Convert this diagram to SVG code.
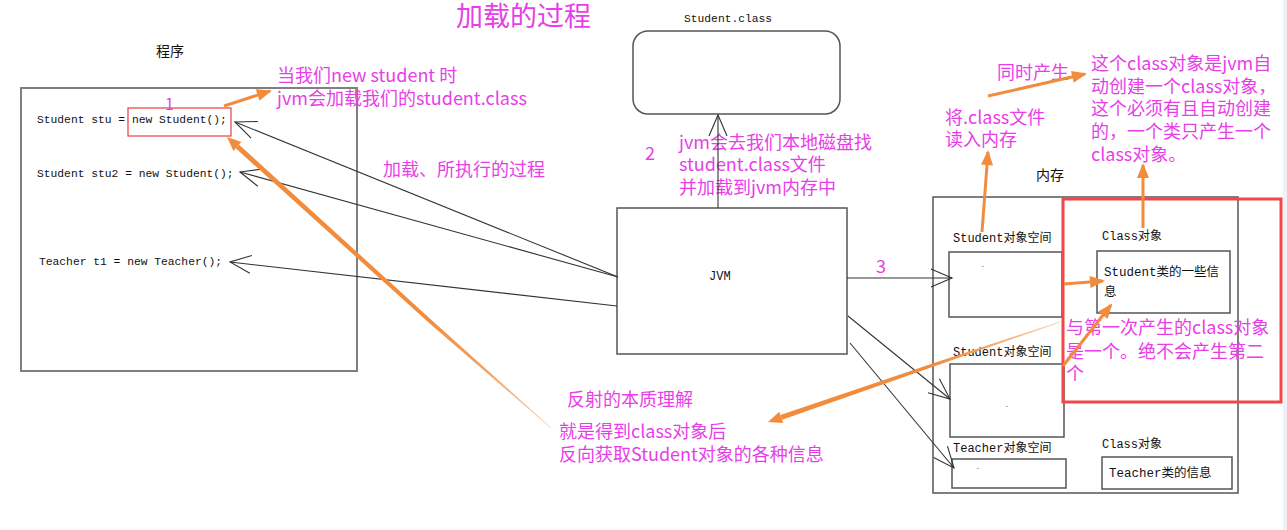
<svg xmlns="http://www.w3.org/2000/svg" width="1287" height="530" viewBox="0 0 1287 530">
<style>
.mg{font-family:"Noto Sans CJK SC","Noto Sans",sans-serif;font-size:18px;fill:#e83ee8}
.code{font-family:"Liberation Mono","Noto Sans CJK SC",monospace;font-size:11.3px;fill:#111}
.lbl{font-family:"Liberation Mono","Noto Sans CJK SC",monospace;font-size:12px;fill:#111}
.cj{font-family:"Noto Sans CJK SC",sans-serif;font-size:14px;fill:#111}
.box{fill:none;stroke:#555;stroke-width:1.5}
.gbox{fill:none;stroke:#808080;stroke-width:2}
.blk{fill:none;stroke:#333;stroke-width:1.1;marker-end:url(#open)}
.org{fill:none;stroke:#f28c3c;stroke-width:3;marker-end:url(#ohead)}
</style>
<defs>
<marker id="open" viewBox="-24 -12 26 24" refX="0" refY="0" markerWidth="26" markerHeight="24" markerUnits="userSpaceOnUse" orient="auto">
<path d="M-21,-9 L0,0 L-21,9" fill="none" stroke="#333" stroke-width="1.1"/>
</marker>
<marker id="ohead" viewBox="-16 -8 20 16" refX="0" refY="0" markerWidth="20" markerHeight="16" markerUnits="userSpaceOnUse" orient="auto">
<path d="M-13,-6 L2,0 L-13,6 z" fill="#f28c3c"/>
</marker>
<linearGradient id="fadeA" gradientUnits="userSpaceOnUse" x1="551" y1="428" x2="237" y2="146">
<stop offset="0" stop-color="#f8d6bb"/><stop offset="0.22" stop-color="#f3a160"/><stop offset="0.4" stop-color="#f28c3c"/><stop offset="1" stop-color="#f28c3c"/>
</linearGradient>
<linearGradient id="fadeB" gradientUnits="userSpaceOnUse" x1="1060" y1="322" x2="781" y2="417">
<stop offset="0" stop-color="#f8d6bb"/><stop offset="0.3" stop-color="#f3a160"/><stop offset="0.45" stop-color="#f28c3c"/><stop offset="1" stop-color="#f28c3c"/>
</linearGradient>
</defs>
<rect x="0" y="0" width="1287" height="530" fill="#ffffff"/>
<rect x="1283" y="0" width="4" height="530" fill="#eef1f5"/>

<g id="title"><text class="mg" x="456" y="25.5" style="font-size:27px">加载的过程</text></g>

<g id="program">
<text class="cj" x="156" y="56">程序</text>
<rect class="gbox" x="21" y="88" width="336" height="283"/>
<text class="code" x="37" y="123">Student stu = new Student();</text>
<rect x="128" y="108" width="103" height="28" fill="none" stroke="#e84040" stroke-width="1.2"/>
<text class="mg" x="165" y="110" style="font-size:16px">1</text>
<text class="code" x="37" y="177">Student stu2 = new Student();</text>
<text class="code" x="39" y="265">Teacher t1 = new Teacher();</text>
</g>

<g id="student-class">
<text class="code" x="684" y="22">Student.class</text>
<rect class="box" x="633" y="31" width="207" height="83" rx="15"/>
</g>

<g id="jvm">
<rect class="box" x="617" y="208" width="230" height="146"/>
<text class="lbl" x="709" y="280">JVM</text>
</g>

<g id="memory">
<text class="cj" x="1036" y="180">内存</text>
<rect class="box" x="933" y="197" width="305" height="296" stroke="#666"/>
</g>

<g id="student-space-1">
<text class="lbl" x="953" y="242">Student对象空间</text>
<rect class="box" x="949" y="252" width="113" height="65" stroke="#333"/>
<text class="lbl" x="980" y="272" style="font-size:9px">`</text>
</g>

<g id="student-space-2">
<text class="lbl" x="953" y="356">Student对象空间</text>
<rect class="box" x="950" y="364" width="114" height="73" stroke="#333"/>
<text class="lbl" x="1004" y="412" style="font-size:9px">`</text>
</g>

<g id="teacher-space">
<text class="lbl" x="953" y="452">Teacher对象空间</text>
<rect class="box" x="952" y="459" width="114" height="29" stroke="#333"/>
<text class="lbl" x="975" y="474" style="font-size:9px">`</text>
</g>

<g id="class-student">
<text class="lbl" x="1102" y="240">Class对象</text>
<rect class="box" x="1097" y="251" width="133" height="62" stroke="#333"/>
<text class="lbl" x="1104" y="276" style="font-size:12.5px">Student类的一些信</text>
<text class="lbl" x="1104" y="296" style="font-size:12.5px">息</text>
</g>

<g id="class-teacher">
<text class="lbl" x="1102" y="448">Class对象</text>
<rect class="box" x="1102" y="457" width="130" height="32" stroke="#444"/>
<text class="lbl" x="1109" y="477" style="font-size:12.5px">Teacher类的信息</text>
</g>

<g id="red-highlight">
<rect x="1063" y="199" width="218" height="203" fill="none" stroke="#f04848" stroke-width="3"/>
</g>

<g id="annotations">
<text class="mg" x="277" y="82">当我们new student 时</text>
<text class="mg" x="277" y="104.5">jvm会加载我们的student.class</text>
<text class="mg" x="383" y="175.5">加载、所执行的过程</text>
<text class="mg" x="645" y="160">2</text>
<text class="mg" x="679" y="148.5">jvm会去我们本地磁盘找</text>
<text class="mg" x="679" y="170.5">student.class文件</text>
<text class="mg" x="679" y="193.5">并加载到jvm内存中</text>
<text class="mg" x="876" y="273">3</text>
<text class="mg" x="997" y="78.5">同时产生</text>
<text class="mg" x="945" y="123.5">将.class文件</text>
<text class="mg" x="945" y="145.5">读入内存</text>
<text class="mg" x="1091" y="69.5">这个class对象是jvm自</text>
<text class="mg" x="1091" y="92.5">动创建一个class对象，</text>
<text class="mg" x="1091" y="115">这个必须有且自动创建</text>
<text class="mg" x="1091" y="138">的，一个类只产生一个</text>
<text class="mg" x="1091" y="161">class对象。</text>
<text class="mg" x="1066" y="334">与第一次产生的class对象</text>
<text class="mg" x="1066" y="357.5">是一个。绝不会产生第二</text>
<text class="mg" x="1066" y="380">个</text>
<text class="mg" x="567" y="405.5">反射的本质理解</text>
<text class="mg" x="559" y="437.5">就是得到class对象后</text>
<text class="mg" x="559" y="460.5">反向获取Student对象的各种信息</text>
</g>

<g id="connectors">
<line class="blk" x1="618" y1="277" x2="235" y2="122"/>
<line class="blk" x1="618" y1="277" x2="240" y2="172"/>
<line class="blk" x1="617" y1="306" x2="230" y2="262"/>
<line class="blk" x1="718" y1="208" x2="718" y2="115"/>
<line class="blk" x1="847" y1="278" x2="952" y2="278"/>
<line class="blk" x1="848" y1="316" x2="950" y2="399"/>
<line class="blk" x1="850" y1="343" x2="954" y2="468"/>

<line class="org" x1="224" y1="106" x2="270" y2="91"/>
<line class="org" x1="988" y1="96" x2="1085" y2="74"/>
<line class="org" x1="982" y1="232" x2="988" y2="152"/>
<line class="org" x1="1143" y1="228" x2="1143" y2="165"/>
<line class="org" x1="1064" y1="284" x2="1103" y2="281"/>
<line class="org" x1="1063" y1="366" x2="1111" y2="305"/>

<path d="M551.3,427.7 L431.5,319.9 L239.1,144.7 L235.7,148.3 L428.6,322.5 L550.7,428.3 Z" fill="url(#fadeA)"/>
<path d="M227,137 L241.4,141.9 L233.4,150.9 Z" fill="#f28c3c"/>
<path d="M1059.9,321.6 L940,361 L780.4,415.1 L782.1,419.8 L941,364 L1060.1,322.4 Z" fill="url(#fadeB)"/>
<path d="M768,422 L779.3,411.8 L783.2,423.1 Z" fill="#f28c3c"/>
</g>
</svg>
